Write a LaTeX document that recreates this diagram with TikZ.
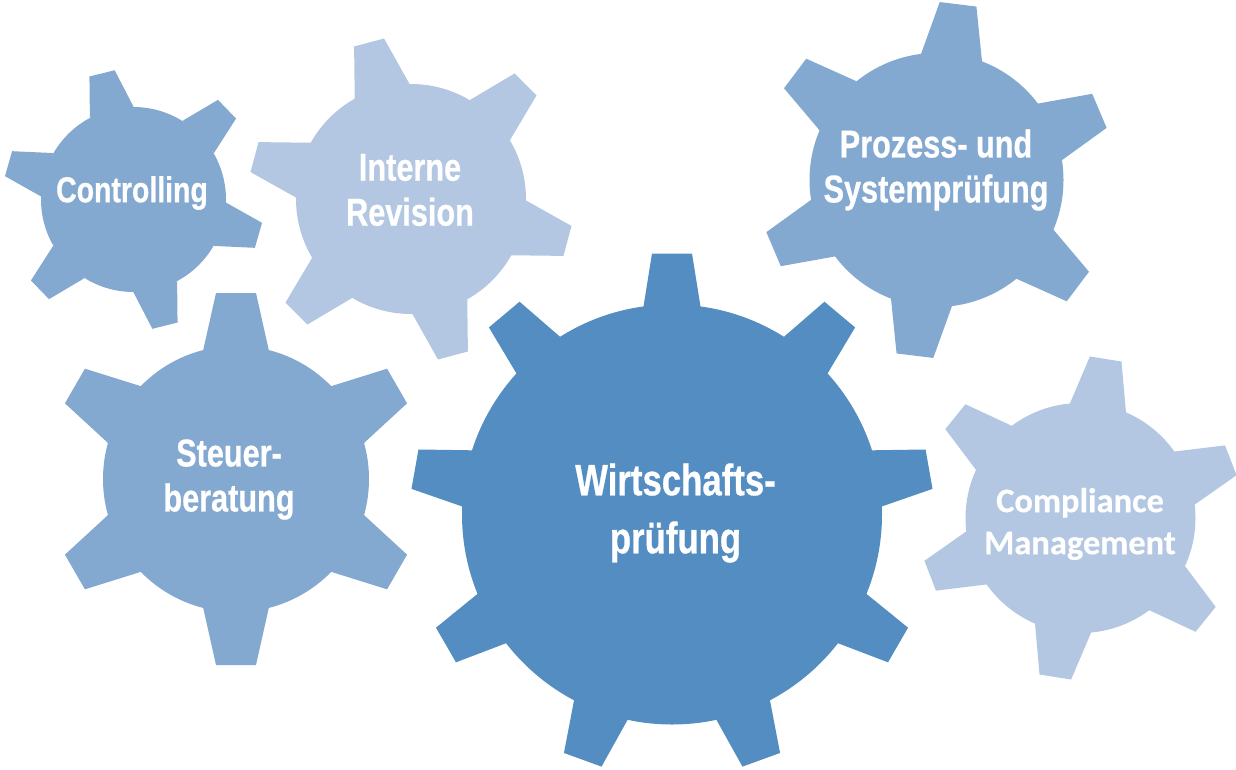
\documentclass[tikz,border=0pt]{standalone}
\usepackage{fontspec}
\usepackage{xcolor}
\newfontfamily\gearfont[FakeStretch=0.79,BoldFeatures={FakeBold=0.6}]{Liberation Sans}
\newfontfamily\lightgearfont[BoldFeatures={FakeBold=0.4}]{Carlito}
\definecolor{gearDark}{RGB}{84,141,193}
\definecolor{gearMid}{RGB}{132,169,208}
\definecolor{gearLight}{RGB}{179,199,226}
% #1 colour, #2 x, #3 y, #4 radius, #5 tooth base radius, #6 tooth tip radius,
% #7 base half width, #8 tip half width, #9 number of teeth and first angle
\newcommand{\gearshape}[9]{%
    \fill[#1] (#2,#3) circle (#4);
    \foreach \n/\first in {#9} {
        \foreach \k in {1,...,\n} {
            \fill[#1, shift={(#2,#3)}, rotate={\first+360/\n*\k}]
                (#5,-#7) -- (#6,-#8) -- (#6,#8) -- (#5,#7) -- cycle;
        }
    }
}
\tikzset{
    gearlabel/.style={text=white, align=center, inner sep=0pt, font=\gearfont\bfseries\fontsize{38.8}{45}\selectfont},
    biglabel/.style={gearlabel, font=\gearfont\bfseries\fontsize{44}{58}\selectfont},
    smalllabel/.style={gearlabel, font=\gearfont\bfseries\fontsize{36}{42}\selectfont},
    lightlabel/.style={gearlabel, font=\lightgearfont\bfseries\fontsize{34.5}{42}\selectfont}
}
\begin{document}
\begin{tikzpicture}[x=1pt, y=-1pt]
    \useasboundingbox (0,0) rectangle (1236,769);
    % gears
    \gearshape{gearMid}{133.5}{199.5}{92.5}{90}{130}{22.5}{13}{6/104}
    \gearshape{gearLight}{411}{199}{115}{111}{162}{28.5}{15.5}{6/105}
    \gearshape{gearMid}{936.5}{180}{127}{122}{177}{31}{18.5}{6/83}
    \gearshape{gearMid}{236}{479}{133}{128}{186}{33}{20}{6/90}
    \gearshape{gearLight}{1080.5}{518}{115}{109}{161}{29}{16}{6/81}
    \gearshape{gearDark}{672}{514.5}{210}{205}{261}{29}{20}{9/90}
    % labels
    \node[smalllabel] (controlling) at (132,193) {Controlling};
    \node[gearlabel] (revision) at (410,190) {Interne\\Revision};
    \node[gearlabel] (prozess) at (936,170) {Prozess- und\\Systemprüfung};
    \node[gearlabel] (steuer) at (229,479.5) {Steuer-\\beratung};
    \node[lightlabel] (compliance) at (1080,524) {Compliance\\Management};
    \node[biglabel] (wirtschaft) at (675.5,513) {Wirtschafts-\\prüfung};
\end{tikzpicture}
\end{document}
